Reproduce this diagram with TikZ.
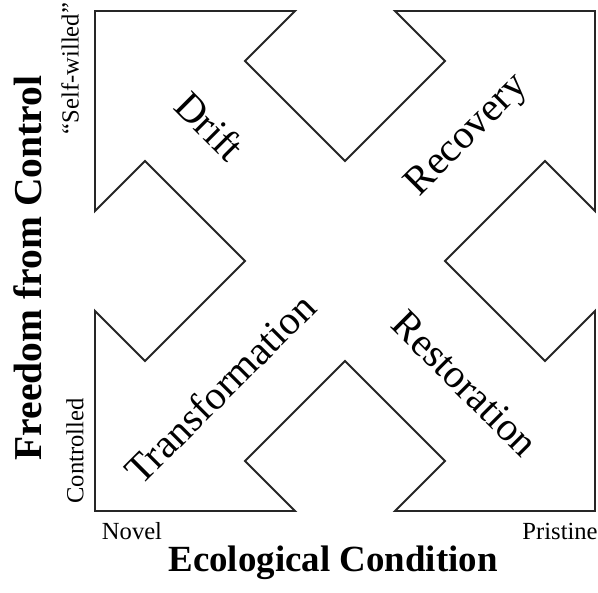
\documentclass[tikz,border=0pt]{standalone}
\usepackage{fontspec}
\setmainfont{Liberation Serif}
\begin{document}
\begin{tikzpicture}[
        quad/.style={draw=black!85, line width=1.1pt, line join=miter},
        zone/.style={font=\fontsize{23}{26}\selectfont},
        axis/.style={font=\fontsize{21}{24}\selectfont\bfseries},
        tick/.style={font=\fontsize{14}{16}\selectfont}]
        \useasboundingbox (-6.9,-6.62) rectangle (5.06,5.22);

        % one outline for the four arrows
        \draw[quad] (0,2) -- (-2,4) -- (-1,5) -- (-5,5) -- (-5,1) -- (-4,2) -- (-2,0)
            -- (-4,-2) -- (-5,-1) -- (-5,-5) -- (-1,-5) -- (-2,-4) -- (0,-2)
            -- (2,-4) -- (1,-5) -- (5,-5) -- (5,-1) -- (4,-2) -- (2,0)
            -- (4,2) -- (5,1) -- (5,5) -- (1,5) -- (2,4) -- cycle;

        \node[zone, rotate=-45] (drift) at (-2.7,2.7) {Drift};
        \node[zone, rotate=45] (recovery) at (2.45,2.5) {Recovery};
        \node[zone, rotate=45] (transformation) at (-2.5,-2.55) {Transformation};
        \node[zone, rotate=-45] (restoration) at (2.4,-2.45) {Restoration};

        \node[tick, rotate=90] (selfwilled) at (-5.5,3.85) {“Self-willed”};
        \node[tick, rotate=90] (controlled) at (-5.4,-3.8) {Controlled};
        \node[tick] (novel) at (-4.26,-5.4) {Novel};
        \node[tick, anchor=east, inner sep=0pt] (pristine) at (5.06,-5.4) {Pristine};

        \node[axis, rotate=90, font=\fontsize{22.5}{25}\selectfont\bfseries] (freedom) at (-6.34,-0.14) {Freedom from Control};
        \node[axis] (ecological) at (-0.24,-6.04) {Ecological Condition};
    \end{tikzpicture}
\end{document}
